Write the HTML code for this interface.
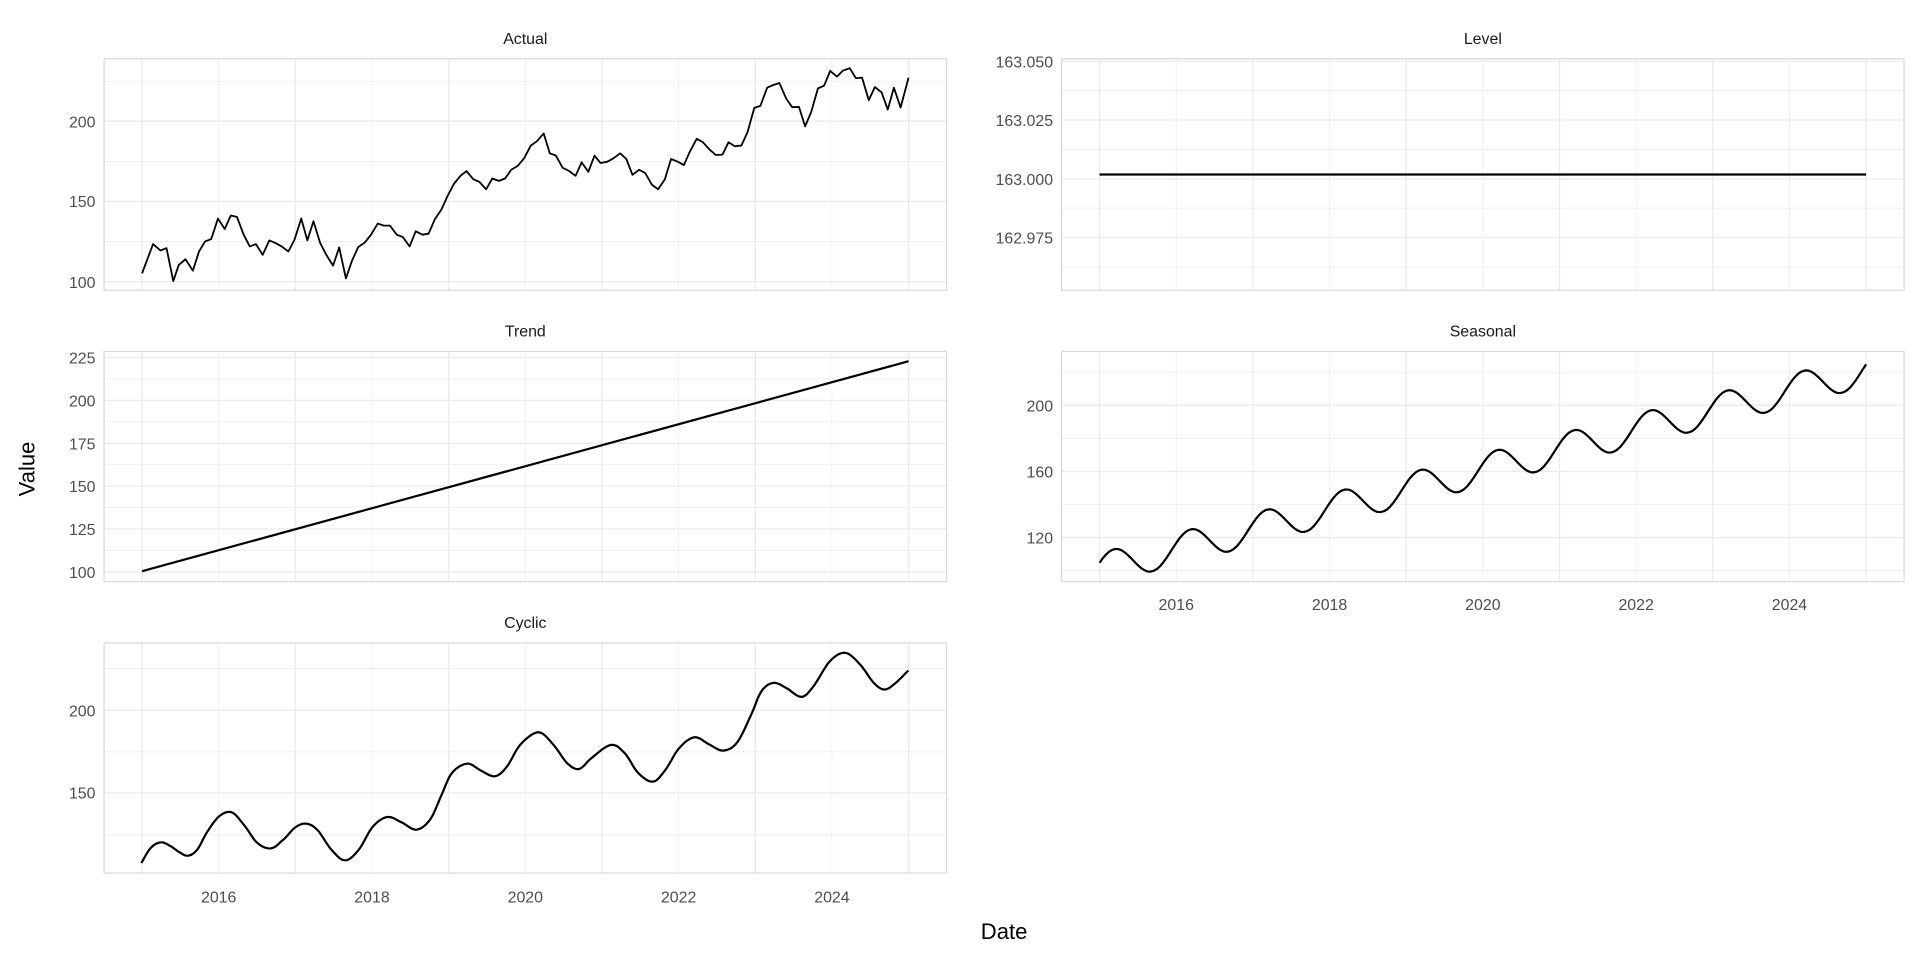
<!DOCTYPE html>
<html><head><meta charset="utf-8"><style>
html,body{margin:0;padding:0;background:#fff;}
svg{display:block;font-family:"Liberation Sans",sans-serif;}
</style></head><body>
<svg id="s" width="1920" height="960" viewBox="0 0 1568 784" preserveAspectRatio="none" xmlns="http://www.w3.org/2000/svg">
<rect width="1568" height="784" fill="#fff"/>
<g id="grid"></g>
<g font-size="13" fill="#1a1a1a" text-anchor="middle">
<text x="429" y="36">Actual</text>
<text x="1211" y="36">Level</text>
<text x="429" y="275">Trend</text>
<text x="1211" y="275">Seasonal</text>
<text x="429" y="513">Cyclic</text>
</g>
<g font-size="13" fill="#4d4d4d" text-anchor="end">
<text x="78" y="104">200</text><text x="78" y="169">150</text><text x="78" y="235">100</text>
<text x="860" y="55">163.050</text><text x="860" y="103">163.025</text><text x="860" y="151">163.000</text><text x="860" y="199">162.975</text>
<text x="78" y="297">225</text><text x="78" y="332">200</text><text x="78" y="367">175</text><text x="78" y="402">150</text><text x="78" y="437">125</text><text x="78" y="472">100</text>
<text x="860" y="336">200</text><text x="860" y="390">160</text><text x="860" y="444">120</text>
<text x="78" y="585">200</text><text x="78" y="652">150</text>
</g>
<g font-size="13" fill="#4d4d4d" text-anchor="middle">
<text x="178.6" y="737">2016</text><text x="303.8" y="737">2018</text><text x="429" y="737">2020</text><text x="554.2" y="737">2022</text><text x="679.4" y="737">2024</text>
<text x="960.6" y="498">2016</text><text x="1085.8" y="498">2018</text><text x="1211" y="498">2020</text><text x="1336.2" y="498">2022</text><text x="1461.4" y="498">2024</text>
</g>
<text x="820" y="767" font-size="18" text-anchor="middle" fill="#000">Date</text>
<text x="0" y="0" font-size="18" text-anchor="middle" fill="#000" transform="translate(28,383) rotate(-90)">Value</text>

<g fill="none" stroke="#000" stroke-width="1.8" stroke-linejoin="round">
<polyline transform="matrix(0.5,0,0,0.2747,0,-2)" vector-effect="non-scaling-stroke" points="232,820 250,733 262,752 272,745 283,843 292,795 303,778 315,812 325,755 335,725 345,718 356,657 367,688 377,648 387,652 398,705 408,740 418,733 429,765 440,722 450,730 460,740 471,755 481,720 492,657 502,722 512,665 523,730 533,765 544,797 554,743 565,835 575,782 585,742 596,728 606,705 617,672 627,678 637,678 648,705 658,712 669,740 679,695 690,705 700,702 710,660 721,630 731,590 741,555 752,530 762,516 773,540 783,548 794,570 804,538 815,545 825,538 835,512 846,500 856,478 867,440 877,427 888,404 898,463 908,470 919,506 929,515 940,530 950,490 961,518 971,470 981,492 992,488 1002,478 1013,463 1023,480 1033,527 1044,512 1054,522 1065,557 1075,570 1086,540 1096,480 1107,488 1117,498 1127,457 1138,420 1148,430 1159,452 1169,468 1180,467 1190,430 1200,442 1211,440 1221,400 1232,328 1242,322 1253,268 1263,260 1273,254 1284,300 1294,326 1305,325 1315,383 1325,340 1336,270 1346,262 1356,218 1367,235 1377,217 1388,210 1398,240 1408,238 1419,305 1429,266 1440,282 1450,333 1460,268 1471,327 1484,238"/>
<line x1="898" y1="142.5" x2="1524" y2="142.5"/>
<line x1="116" y1="466.5" x2="742" y2="295"/>
<polyline id="seas"/>
<polyline id="cyc"/>
</g>
</svg>
<script>
(function(){
var ns="http://www.w3.org/2000/svg",g=document.getElementById("grid");
function ln(x1,y1,x2,y2,w,c){var l=document.createElementNS(ns,"line");l.setAttribute("x1",x1);l.setAttribute("y1",y1);l.setAttribute("x2",x2);l.setAttribute("y2",y2);l.setAttribute("stroke",c||"#ebebeb");l.setAttribute("stroke-width",w);g.appendChild(l);}
function panel(x0,y0,x1,y1,maj,min,xs){
 min.forEach(function(y){ln(x0,y,x1,y,0.6);});
 maj.forEach(function(y){ln(x0,y,x1,y,1.1);});
 for(var k=0;k<=10;k++){var x=xs+62.6*k;ln(x,y0,x,y1,(k%2)?0.6:1.1);}
 var r=document.createElementNS(ns,"rect");r.setAttribute("x",x0);r.setAttribute("y",y0);r.setAttribute("width",x1-x0);r.setAttribute("height",y1-y0);r.setAttribute("fill","none");r.setAttribute("stroke","#d9d9d9");r.setAttribute("stroke-width","1");g.appendChild(r);
}
panel(85,48,773,237,[230,164.5,99],[197.3,131.8,66.3],116);
panel(867,48,1555,237,[50,98,146,194],[74,122,170,218],898);
var tm=[],tn=[];for(var v=100;v<=225;v+=25){tm.push(467-(v-100)*1.4);}for(var u=112.5;u<=212.5;u+=25){tn.push(467-(u-100)*1.4);}
panel(85,287,773,475,tm,tn,116);
panel(867,287,1555,475,[439,385,331],[466,412,358,304],898);
panel(85,525,773,713,[580,647.6],[546,614,681.7],116);
var p=[];for(var i=0;i<=240;i++){var t=i/24;var v=101+12*t+9.7*Math.sin(2*Math.PI*t+0.4);p.push((898+62.6*t).toFixed(1)+","+(331-(v-200)*1.35).toFixed(1));}
document.getElementById("seas").setAttribute("points",p.join(" "));
// cyclic: catmull-rom smoothing of control points
var c=[[93,730],[110,685],[128,668],[145,678],[162,697],[178,708],[195,690],[212,640],[235,590],[258,578],[280,615],[305,670],[330,686],[352,660],[375,622],[395,612],[415,632],[440,690],[465,722],[490,690],[515,622],[542,592],[568,608],[595,630],[620,600],[640,530],[660,460],[688,432],[712,452],[738,470],[760,442],[785,375],[818,338],[845,375],[870,430],[892,448],[915,415],[950,376],[975,400],[1000,460],[1027,486],[1050,450],[1075,385],[1103,353],[1130,375],[1155,393],[1180,370],[1205,290],[1225,215],[1247,190],[1270,205],[1298,232],[1320,200],[1350,125],[1378,100],[1405,135],[1430,190],[1450,210],[1470,190],[1493,153]];
c=c.map(function(q){return [q[0]*0.4474+73.8,q[1]*0.2725+505.9];});
var o=[];
for(var i=0;i<c.length-1;i++){var p0=c[Math.max(0,i-1)],p1=c[i],p2=c[i+1],p3=c[Math.min(c.length-1,i+2)];
 for(var s=0;s<8;s++){var t=s/8,t2=t*t,t3=t2*t;
  var x=0.5*((2*p1[0])+(-p0[0]+p2[0])*t+(2*p0[0]-5*p1[0]+4*p2[0]-p3[0])*t2+(-p0[0]+3*p1[0]-3*p2[0]+p3[0])*t3);
  var y=0.5*((2*p1[1])+(-p0[1]+p2[1])*t+(2*p0[1]-5*p1[1]+4*p2[1]-p3[1])*t2+(-p0[1]+3*p1[1]-3*p2[1]+p3[1])*t3);
  o.push(x.toFixed(1)+","+y.toFixed(1));}}
o.push(c[c.length-1][0].toFixed(1)+","+c[c.length-1][1].toFixed(1));
document.getElementById("cyc").setAttribute("points",o.join(" "));
})();
</script>
</body></html>
